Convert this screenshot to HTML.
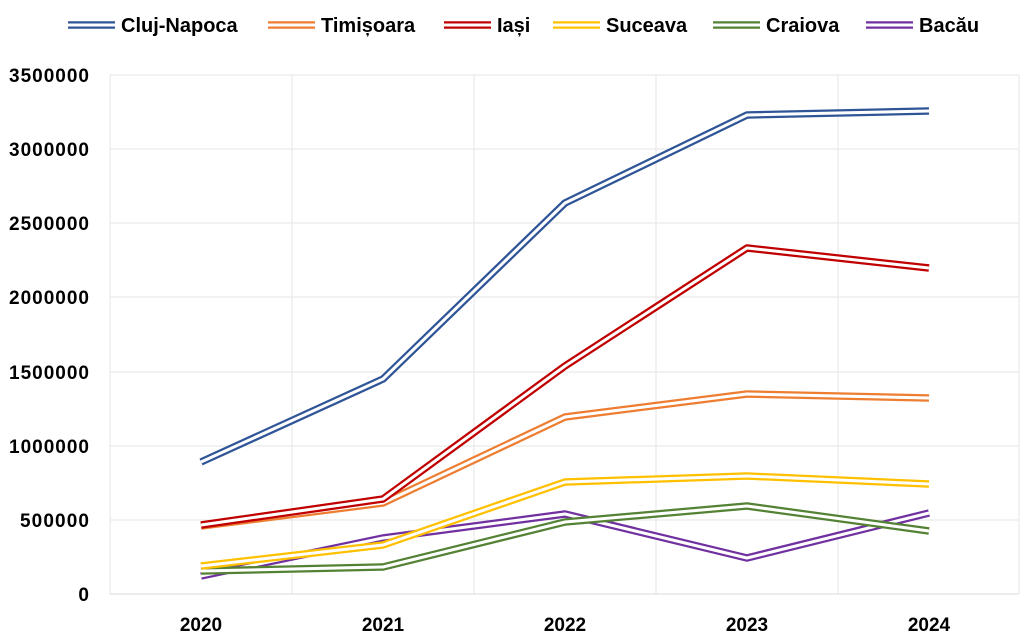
<!DOCTYPE html>
<html><head><meta charset="utf-8"><style>body{margin:0;background:#fff}svg{display:block}text{font-family:"Liberation Sans",sans-serif;font-weight:bold;fill:#000}</style></head><body>
<svg width="1027" height="643" viewBox="0 0 1027 643">
<g stroke="#e6e6e6" stroke-width="1">
<line x1="110" y1="75" x2="1019" y2="75"/><line x1="110" y1="149" x2="1019" y2="149"/><line x1="110" y1="223" x2="1019" y2="223"/><line x1="110" y1="297" x2="1019" y2="297"/><line x1="110" y1="372" x2="1019" y2="372"/><line x1="110" y1="446" x2="1019" y2="446"/><line x1="110" y1="520" x2="1019" y2="520"/>
<line x1="110" y1="75" x2="110" y2="594"/><line x1="292" y1="75" x2="292" y2="594"/><line x1="474" y1="75" x2="474" y2="594"/><line x1="656" y1="75" x2="656" y2="594"/><line x1="838" y1="75" x2="838" y2="594"/><line x1="1019" y1="75" x2="1019" y2="594"/>
</g>
<line x1="110" y1="594" x2="1019" y2="594" stroke="#d9d9d9" stroke-width="1"/>
<g font-size="19" text-anchor="end" textLength="80">
<text x="89" y="82" textLength="80">3500000</text><text x="89" y="156" textLength="80">3000000</text><text x="89" y="230" textLength="80">2500000</text><text x="89" y="304" textLength="80">2000000</text><text x="89" y="379" textLength="80">1500000</text><text x="89" y="453" textLength="80">1000000</text><text x="89" y="527" textLength="69">500000</text><text x="89" y="601">0</text>
</g>
<g font-size="19" text-anchor="middle">
<text x="201" y="631">2020</text><text x="383" y="631">2021</text><text x="565" y="631">2022</text><text x="747" y="631">2023</text><text x="929" y="631">2024</text>
</g>
<g fill="none" stroke-linejoin="round">
<polyline points="201,576 383,538 565,514 747,558 929,513" stroke="#7030a0" stroke-width="7.5"/><polyline points="201,576 383,538 565,514 747,558 929,513" stroke="#fff" stroke-width="3"/>
<polyline points="201,571 383,567 565,522 747,506 929,531" stroke="#548235" stroke-width="7.5"/><polyline points="201,571 383,567 565,522 747,506 929,531" stroke="#fff" stroke-width="3"/>
<polyline points="201,566 383,545 565,482 747,476 929,484" stroke="#ffc000" stroke-width="7.5"/><polyline points="201,566 383,545 565,482 747,476 929,484" stroke="#fff" stroke-width="3"/>
<polyline points="201,526 383,503 565,417 747,394 929,398" stroke="#ed7d31" stroke-width="7.5"/><polyline points="201,526 383,503 565,417 747,394 929,398" stroke="#fff" stroke-width="3"/>
<polyline points="201,525 383,499 565,366 747,248 929,268" stroke="#c00000" stroke-width="7.5"/><polyline points="201,525 383,499 565,366 747,248 929,268" stroke="#fff" stroke-width="3"/>
<polyline points="201,462 383,379 565,203 747,115 929,111" stroke="#2f5597" stroke-width="7.5"/><polyline points="201,462 383,379 565,203 747,115 929,111" stroke="#fff" stroke-width="3"/>
</g>
<g stroke-width="7.5">
<line x1="68" y1="25" x2="115" y2="25" stroke="#2f5597"/><line x1="268" y1="25" x2="315" y2="25" stroke="#ed7d31"/><line x1="444" y1="25" x2="491" y2="25" stroke="#c00000"/><line x1="553" y1="25" x2="600" y2="25" stroke="#ffc000"/><line x1="713" y1="25" x2="760" y2="25" stroke="#548235"/><line x1="866" y1="25" x2="913" y2="25" stroke="#7030a0"/>
</g>
<g stroke="#fff" stroke-width="3">
<line x1="68" y1="25" x2="115" y2="25"/><line x1="268" y1="25" x2="315" y2="25"/><line x1="444" y1="25" x2="491" y2="25"/><line x1="553" y1="25" x2="600" y2="25"/><line x1="713" y1="25" x2="760" y2="25"/><line x1="866" y1="25" x2="913" y2="25"/>
</g>
<g font-size="20">
<text x="121" y="32">Cluj-Napoca</text><text x="321" y="32">Timișoara</text><text x="497" y="32">Iași</text><text x="606" y="32">Suceava</text><text x="766" y="32">Craiova</text><text x="919" y="32">Bacău</text>
</g>
</svg>
</body></html>
